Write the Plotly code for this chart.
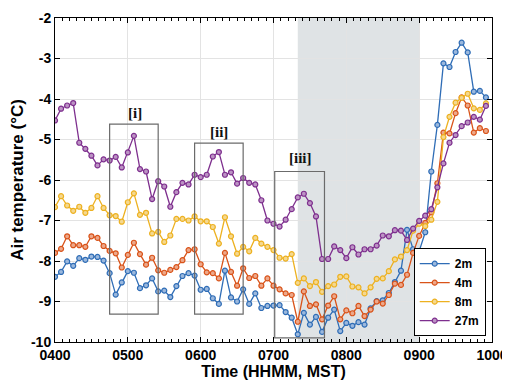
import pandas as pd
import plotly.graph_objects as go

# ---- data (5-min samples, 0400-0955 MST) ----
times = pd.date_range("2000-01-01 04:00", periods=72, freq="5min")

t_2m = [-8.39, -8.27, -8.01, -8.12, -7.93, -7.97, -7.89, -7.90, -7.99, -8.30, -8.83, -8.53,
        -8.25, -8.29, -8.67, -8.60, -8.43, -8.75, -8.73, -8.89, -8.62, -8.37, -8.30, -8.36,
        -8.71, -8.69, -8.92, -9.06, -8.24, -8.90, -9.00, -8.70, -9.06, -8.80, -9.16, -9.11,
        -9.10, -9.09, -9.26, -9.40, -9.81, -9.28, -9.57, -9.38, -9.75, -9.40, -9.20, -9.73,
        -9.53, -9.60, -9.51, -9.57, -9.17, -8.99, -8.97, -8.79, -8.52, -8.24, -7.23, -7.71,
        -7.76, -7.29, -5.79, -4.64, -3.12, -3.21, -2.84, -2.61, -2.85, -3.82, -3.80, -3.96]

t_4m = [-7.80, -7.70, -7.39, -7.61, -7.61, -7.65, -7.39, -7.43, -7.63, -7.75, -7.81, -8.16,
        -7.85, -7.55, -7.83, -8.09, -7.92, -8.23, -8.29, -8.22, -8.15, -7.98, -7.73, -7.71,
        -8.08, -8.28, -8.30, -8.43, -7.80, -8.27, -8.61, -8.18, -8.42, -8.37, -8.61, -8.43,
        -8.61, -8.70, -8.80, -8.84, -9.50, -8.75, -9.11, -9.07, -9.44, -9.10, -8.87, -9.44,
        -9.22, -9.29, -9.11, -9.36, -9.20, -9.00, -9.05, -8.84, -8.56, -8.59, -8.34, -7.80,
        -7.38, -7.06, -6.80, -6.08, -4.83, -4.85, -4.35, -3.96, -4.16, -4.83, -4.72, -4.79]

t_8m = [-6.67, -6.40, -6.63, -6.76, -6.66, -6.81, -6.69, -6.40, -6.69, -6.87, -6.89, -7.03,
        -6.55, -6.33, -6.86, -6.81, -7.32, -7.28, -7.53, -7.37, -6.96, -6.96, -7.00, -6.90,
        -7.02, -7.02, -7.16, -7.57, -6.92, -7.39, -7.82, -7.65, -7.76, -7.43, -7.57, -7.65,
        -7.73, -7.92, -7.94, -7.83, -8.54, -8.43, -8.62, -8.52, -8.76, -8.62, -8.58, -8.39,
        -8.38, -8.63, -8.65, -8.80, -8.65, -8.44, -8.43, -8.25, -7.96, -7.89, -7.73, -7.25,
        -7.08, -7.14, -6.98, -6.54, -4.94, -4.44, -4.09, -3.97, -3.87, -4.23, -4.27, -4.11]

t_27m = [-4.53, -4.24, -4.16, -4.10, -5.08, -5.23, -5.40, -5.64, -5.49, -5.52, -5.43, -5.69,
         -5.32, -4.91, -5.73, -5.79, -6.47, -6.03, -6.16, -6.66, -6.30, -6.07, -6.11, -5.87,
         -5.93, -5.87, -5.42, -5.31, -5.87, -5.81, -6.09, -5.95, -6.07, -6.11, -6.50, -7.00,
         -7.08, -7.15, -6.98, -6.72, -6.43, -6.34, -6.57, -6.90, -7.95, -7.95, -7.64, -7.73,
         -7.93, -7.66, -7.84, -7.71, -7.71, -7.62, -7.37, -7.39, -7.24, -7.25, -7.48, -7.20,
         -7.01, -6.88, -6.72, -6.18, -5.59, -5.08, -4.89, -4.67, -4.58, -4.44, -4.51, -4.17]

series_names = ["2m", "4m", "8m", "27m"]
series_vals = [t_2m, t_4m, t_8m, t_27m]
colors = ["#2f6db6", "#d95319", "#edb120", "#7e2f8e"]
fills = ["#9bb8dd", "#eda88a", "#f5d88f", "#bc93c4"]

y_ticks = [-10, -9, -8, -7, -6, -5, -4, -3, -2]
y_ticklabels = ["-10", "-9", "-8", "-7", "-6", "-5", "-4", "-3", "-2"]

shade = ("2000-01-01 07:20", "2000-01-01 09:00")
boxes = [
    ("[i]", "2000-01-01 04:45", "2000-01-01 05:25", -9.31, -4.62, "2000-01-01 05:06", -4.35),
    ("[ii]", "2000-01-01 05:55", "2000-01-01 06:35", -9.31, -5.09, "2000-01-01 06:15", -4.82),
    ("[iii]", "2000-01-01 07:01", "2000-01-01 07:42", -9.90, -5.79, "2000-01-01 07:22", -5.45),
]

fig = go.Figure()
for name, vals, c, fc in zip(series_names, series_vals, colors, fills):
    fig.add_trace(go.Scatter(
        x=times, y=vals, name=name, mode="lines+markers",
        line=dict(color=c, width=1.3),
        marker=dict(symbol="circle", size=5, color=fc, line=dict(color=c, width=1.2)),
    ))

shapes = [dict(type="rect", xref="x", yref="y", x0=shade[0], x1=shade[1], y0=-10, y1=-2,
               fillcolor="#dfe3e5", line=dict(width=0), layer="below")]
annotations = []
for lab, x0, x1, y0, y1, lx, ly in boxes:
    shapes.append(dict(type="rect", xref="x", yref="y", x0=x0, x1=x1, y0=y0, y1=y1,
                       line=dict(color="#6b6b6b", width=1.2), fillcolor="rgba(0,0,0,0)"))
    annotations.append(dict(x=lx, y=ly, xref="x", yref="y", text="<b>%s</b>" % lab,
                            showarrow=False, font=dict(family="Liberation Serif", size=15, color="#111")))

# page body adds an 8px offset, so the figure is laid out in a 502x374 box
fig.update_layout(
    width=502, height=374,
    margin=dict(l=47, r=18, t=10, b=40, autoexpand=False),
    paper_bgcolor="white", plot_bgcolor="white",
    font=dict(family="Liberation Sans", size=13, color="black"),
    shapes=shapes, annotations=annotations,
    showlegend=True,
    legend=dict(x=0.9856, y=0.018, xanchor="right", yanchor="bottom",
                bgcolor="white", bordercolor="black", borderwidth=1,
                font=dict(family="Liberation Sans", size=12, color="black", weight="bold"),
                tracegroupgap=0, itemwidth=30),
)

fig.update_xaxes(
    type="date", range=["2000-01-01 04:00", "2000-01-01 10:00"],
    dtick=3600000, tickformat="%H%M", automargin=False,
    showline=True, linecolor="black", linewidth=1, mirror="allticks",
    ticks="inside", ticklen=5, tickcolor="black",
    showgrid=True, gridcolor="#e3e3e3", gridwidth=1,
    zeroline=False,
    minor=dict(dtick=360000, ticks="inside", ticklen=3, tickcolor="black", showgrid=False),
    tickfont=dict(family="Liberation Sans", size=14, weight="bold"),
    title=dict(text="<b>Time (HHMM, MST)</b>", font=dict(size=16), standoff=3),
)
fig.update_yaxes(
    range=[-10, -2], tickvals=y_ticks, ticktext=y_ticklabels, automargin=False,
    showline=True, linecolor="black", linewidth=1, mirror="allticks",
    ticks="inside", ticklen=5, tickcolor="black",
    showgrid=True, gridcolor="#e3e3e3", gridwidth=1,
    zeroline=False,
    tickfont=dict(family="Liberation Sans", size=14, weight="bold"),
    title=dict(text="<b>Air temperature (°C)</b>", font=dict(size=17), standoff=4),
)

fig.write_html("out.html")
